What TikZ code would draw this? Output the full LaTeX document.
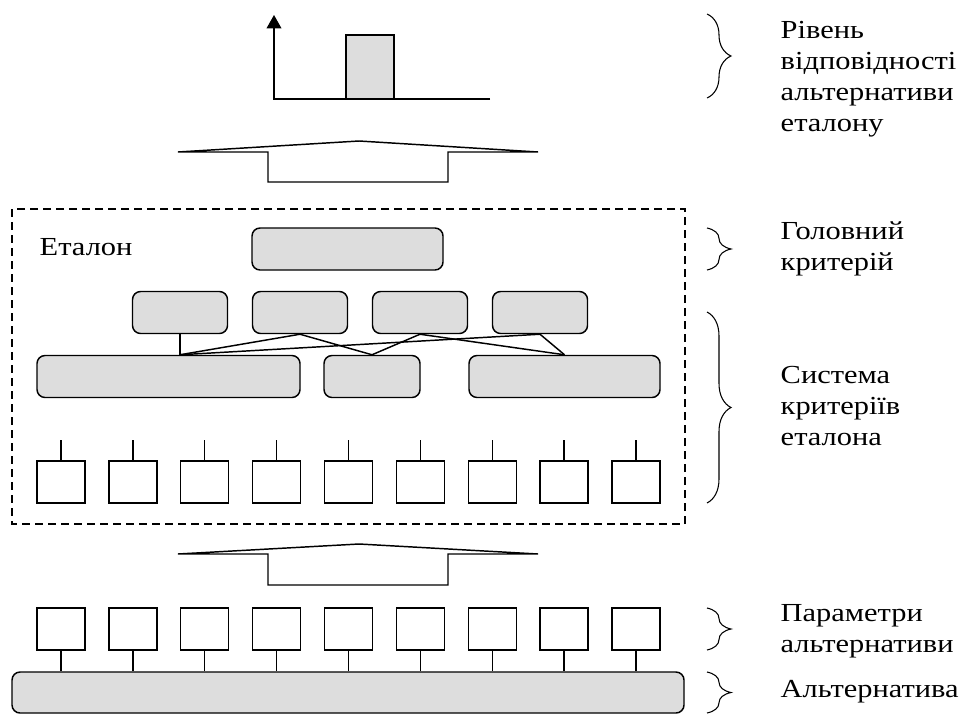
\documentclass[tikz,border=0pt]{standalone}
\usepackage{fontspec}
\setmainfont{Liberation Serif}[FakeStretch=1.17]
\usetikzlibrary{arrows.meta,decorations.pathreplacing}
\definecolor{boxgray}{RGB}{221,221,221}

\begin{document}
\begin{tikzpicture}[x=0.75pt,y=-0.75pt,line width=1.1pt,
    crit/.style={rectangle,rounded corners=6pt,draw,fill=boxgray,minimum height=31.5pt,inner sep=0pt},
    param/.style={rectangle,draw,fill=white,minimum width=36pt,minimum height=31.5pt,inner sep=0pt},
    lbl/.style={font=\fontsize{19.5pt}{23.25pt}\selectfont,align=left,anchor=west,inner sep=0pt},
    brc/.style={decorate,decoration={brace,amplitude=18pt},line width=0.8pt}]
\useasboundingbox (0,0) rectangle (973,713);

% level of correspondence
\coordinate (o) at (274,99);
\coordinate (ytop) at (274,15);
\coordinate (xend) at (490,99);
\draw[fill=boxgray] (346,35) rectangle (394,99);
\draw[-{Triangle[width=11pt,length=10pt]}] (xend) -- (o) -- (ytop);

% wide arrows
\draw (178,152) -- (359,141) -- (538,152) -- (448,152) -- (448,182) -- (268,182) -- (268,152) -- cycle;
\draw (178,554) -- (359,544) -- (538,554) -- (448,554) -- (448,585) -- (268,585) -- (268,554) -- cycle;

% reference
\draw[dashed,dash pattern=on 6pt off 3.75pt] (12,209) rectangle (685,524);
\node[lbl,anchor=base west] (et) at (39,255) {Еталон};
\node[crit,minimum width=143.25pt] (g) at (347.5,249) {};
\node[crit,minimum width=71.25pt] (k1) at (180,312.5) {};
\node[crit,minimum width=71.25pt] (k2) at (300,312.5) {};
\node[crit,minimum width=71.25pt] (k3) at (420,312.5) {};
\node[crit,minimum width=71.25pt] (k4) at (540,312.5) {};
\node[crit,minimum width=197.25pt] (s1) at (168.5,376.5) {};
\node[crit,minimum width=72pt] (s2) at (372,376.5) {};
\node[crit,minimum width=143.25pt] (s3) at (564.5,376.5) {};
\coordinate (j) at (k1.south |- s1.north);
\draw (k1.south) -- (j);
\draw (k2.south) -- (j);
\draw (k2.south) -- (s2.north);
\draw (k3.south) -- (s2.north);
\draw (k3.south) -- (s3.north);
\draw (k4.south) -- (j);
\draw (k4.south) -- (s3.north);

% alternative
\node[crit,minimum width=504pt,minimum height=30.75pt] (alt) at (348,692.5) {};

\foreach \i [evaluate=\i as \cx using 61+71.875*(\i-1)] in {1,...,9} {
  \node[param] (e\i) at (\cx,482) {};
  \coordinate (t\i) at (\cx,440);
  \draw (e\i.north) -- (t\i);
  \node[param] (p\i) at (\cx,629) {};
  \draw (p\i.south) -- (p\i.south |- alt.north);
}

% braces and labels
\draw[brc] (707,14) -- (707,98);
\draw[brc] (707,228) -- (707,270);
\draw[brc] (707,312) -- (707,503);
\draw[brc] (707,608) -- (707,650);
\draw[brc] (707,672) -- (707,713);
\node[lbl] (l1) at (780,79) {Рівень\\відповідності\\альтернативи\\еталону};
\node[lbl] (l2) at (780,249) {Головний\\критерій};
\node[lbl] (l3) at (780,406) {Система\\критеріїв\\еталона};
\node[lbl] (l4) at (780,631) {Параметри\\альтернативи};
\node[lbl] (l5) at (780,692) {Альтернатива};
\end{tikzpicture}
\end{document}
